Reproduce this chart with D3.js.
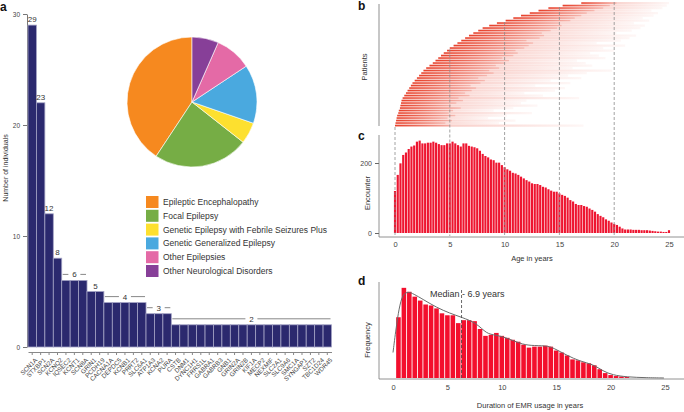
<!DOCTYPE html>
<html>
<head>
<meta charset="utf-8">
<script src="https://cdn.jsdelivr.net/npm/d3@7"></script>
<style>
body { margin: 0; background: #fff; }
svg { font-family: "Liberation Sans", Arial, sans-serif; }
</style>
</head>
<body>
<div id="chart"></div>
<script>
// panel a - genes and number of individuals
var genes = ["SCN1A", "STXBP1", "SCN2A", "KCNQ2", "IQSEC2", "KCNT1", "SCN8A", "GRIN1", "PCDH19",
    "CACNA1A", "DEPDC5", "KCNB1", "PRRT2", "SLC6A1", "ATP1A3", "KCNA2", "PURA",
    "CSTB", "DNM1", "DYNC1H1", "FRRS1L", "GABRA1", "GABRB3", "GNB1", "GRIN2A", "GRIN2B", "KIF1A",
    "MECP2", "NEXMIF", "SLC2A1", "SLC9A6", "SMC1A", "SYNGAP1", "SZT2", "TBC1D24", "WDR45"];
var geneCounts = [29, 22, 12, 8, 6, 6, 6, 5, 5, 4, 4, 4, 4, 4, 3, 3, 3,
    2, 2, 2, 2, 2, 2, 2, 2, 2, 2, 2, 2, 2, 2, 2, 2, 2, 2, 2];
// labels over groups of bars: text, first bar, last bar
var countLabels = [["29", 0, 0], ["23", 1, 1], ["12", 2, 2], ["8", 3, 3], ["6", 4, 6],
    ["5", 7, 8], ["4", 9, 13], ["3", 14, 16], ["2", 17, 35]];

// pie - phenotype shares (%)
var phenotypes = ["Epileptic Encephalopathy", "Focal Epilepsy", "Genetic Epilepsy with Febrile Seizures Plus",
    "Genetic Generalized Epilepsy", "Other Epilepsies", "Other Neurological Disorders"];
var phenotypeShares = [40.7, 23.7, 5.3, 14.6, 9.1, 6.6];
var phenotypeColors = ["#f6891f", "#76ad45", "#fde02f", "#4aa9df", "#e46aa6", "#873f98"];

// panel b - patient rows (bottom to top): first age, end of dense part, last age
var patientStart = [0, 0.05, 0.1, 0.15, 0.2, 0.3, 0.35, 0.45, 0.5, 0.55,
    0.6, 0.7, 0.85, 1.0, 1.15, 1.3, 1.45, 1.6, 1.8, 2.0,
    2.2, 2.4, 2.6, 2.85, 3.15, 3.45, 3.7, 3.95, 4.2, 4.45,
    4.75, 5.0, 5.35, 5.7, 6.05, 6.4, 6.75, 7.15, 7.6, 8.0,
    8.6, 9.3, 10.1, 10.8, 11.5, 12.3, 13.1, 14.0, 15.3, 17.0];
var denseEnd = [5.0, 4.6, 5.2, 4.8, 5.5, 4.9, 5.3, 6.0, 5.1, 5.6,
    6.2, 5.8, 6.8, 6.4, 7.0, 7.4, 6.9, 7.8, 8.2, 7.6,
    8.4, 9.0, 8.6, 9.5, 9.2, 10.0, 10.4, 9.8, 10.8, 11.2,
    11.0, 11.8, 12.2, 12.6, 12.0, 13.2, 13.6, 13.4, 14.2, 14.8,
    15.2, 15.0, 16.0, 16.4, 17.0, 17.5, 18.2, 19.0, 19.6, 20.2];
var sparseEnd = [17.2, 9.5, 11.0, 8.5, 10.2, 12.5, 9.0, 10.8, 13.0, 11.5,
    12.0, 16.8, 13.5, 11.8, 14.6, 15.5, 12.8, 16.0, 14.2, 17.0,
    15.8, 17.5, 19.8, 16.2, 18.0, 17.4, 16.6, 19.2, 18.6, 17.8,
    20.0, 19.0, 21.0, 18.4, 20.6, 21.4, 22.0, 20.2, 21.6, 22.4,
    22.8, 21.8, 23.2, 22.6, 23.6, 24.0, 23.4, 24.4, 24.8, 25.0];

// panel c - encounters per quarter year of age (0 .. 25)
var encounterBin = 0.25;
var encounterCounts = [120, 166, 199, 223, 230, 240, 247, 250, 261, 264,
    256, 256, 258, 258, 261, 258, 254, 251, 251, 256,
    256, 261, 256, 251, 247, 256, 256, 249, 247, 245,
    242, 235, 226, 220, 216, 210, 208, 201, 201, 194,
    188, 182, 178, 172, 170, 166, 161, 156, 151, 147,
    142, 140, 140, 137, 132, 130, 125, 121, 118, 118,
    113, 109, 106, 101, 94, 90, 83, 80, 80, 77,
    75, 70, 66, 61, 54, 49, 45, 39, 35, 30,
    26, 23, 18, 13, 10, 10, 10, 9, 9, 9,
    8, 8, 8, 7, 6, 5, 4, 4, 3, 3, 8];
var ageTicks = [0, 5, 10, 15, 20, 25];
var guideAges = [0, 5, 10, 15, 20];

// panel d - duration of EMR usage, half-year bins centred at 0.5 .. 21.5
var durationBin = 0.5;
var durationCounts = [62, 92, 88, 83, 79, 75, 74, 71, 66, 64,
    64, 56, 59, 59, 58, 50, 43, 44, 46, 43,
    41, 39, 37, 34, 31, 32, 32, 33, 32, 28,
    26, 23, 19, 18, 16, 15, 13, 9, 5, 3,
    2, 1.5, 1];
var densityAge = [0, 0.34, 0.64, 0.95, 1.41, 1.87, 2.79, 4.0, 5.24, 6.3, 7.7, 8.6, 9.4, 10.45,
    11.7, 12.6, 14.1, 14.7, 16.0, 17.2, 18.4, 19.3, 20.2, 21.5, 23.3, 24.9];
var densityValue = [26, 56, 76, 86, 88, 86, 80, 72, 66, 62, 56, 45, 44, 41,
    35, 33, 33, 31, 23, 17, 14, 7, 3, 1, 0.3, 0];
var medianAge = 6.3;

var svg = d3.select("#chart").append("svg")
    .attr("width", 684)
    .attr("height", 412);

var textColor = "#333";

function panelLetter(txt, x, y) {
    svg.append("text").attr("x", x).attr("y", y)
        .attr("font-size", 12).attr("font-weight", "bold").attr("fill", "#111")
        .text(txt);
}

function rotatedTitle(txt, x, y, size) {
    svg.append("text")
        .attr("transform", "translate(" + x + "," + y + ") rotate(-90)")
        .attr("text-anchor", "middle")
        .attr("font-size", size).attr("fill", textColor)
        .text(txt);
}

// ================= panel a =================
panelLetter("a", 0, 11);

var xA = d3.scaleBand().domain(genes).range([28, 331.5]).paddingInner(0);
var yA = d3.scaleLinear().domain([0, 30]).range([347, 14]);

var yAxisA = svg.append("g")
    .attr("transform", "translate(27,0)")
    .attr("color", "#777")
    .call(d3.axisLeft(yA).tickValues([0, 10, 20, 30]).tickSize(4).tickSizeOuter(0));
yAxisA.selectAll("text").attr("font-size", 6.5).attr("fill", "#444").attr("font-family", null);

rotatedTitle("Number of individuals", 8, 168, 7);

svg.selectAll(".geneBar")
    .data(geneCounts)
    .enter()
    .append("rect")
    .attr("class", "geneBar")
    .attr("x", function (d, i) { return xA(genes[i]); })
    .attr("y", function (d) { return yA(d); })
    .attr("width", xA.bandwidth())
    .attr("height", function (d) { return yA(0) - yA(d); })
    .attr("fill", "#2b296e")
    .attr("stroke", "#a3a2c4")
    .attr("stroke-width", 0.8);

var xAxisA = svg.append("g")
    .attr("transform", "translate(0,352)")
    .attr("color", "#888")
    .call(d3.axisBottom(xA).tickSize(3).tickSizeOuter(0));
xAxisA.selectAll("text")
    .attr("font-size", 6.3)
    .attr("fill", "#444")
    .attr("font-family", null)
    .attr("y", 0)
    .attr("dy", "0.35em")
    .attr("text-anchor", "end")
    .attr("transform", "translate(4,7) rotate(-45)");

// count labels with side rules
countLabels.forEach(function (g) {
    var x0 = xA(genes[g[1]]), x1 = xA(genes[g[2]]) + xA.bandwidth();
    var top = d3.max(geneCounts.slice(g[1], g[2] + 1));
    var cy = yA(top) - 6, cx = (x0 + x1) / 2;
    svg.append("text")
        .attr("x", cx).attr("y", cy + 3)
        .attr("text-anchor", "middle")
        .attr("font-size", 8).attr("fill", textColor)
        .text(g[0]);
    if (g[2] - g[1] >= 2) {
        var gap = 6;
        svg.append("line").attr("x1", x0 + 1).attr("x2", cx - gap)
            .attr("y1", cy).attr("y2", cy).attr("stroke", "#555").attr("stroke-width", 0.7);
        svg.append("line").attr("x1", cx + gap).attr("x2", x1 - 1)
            .attr("y1", cy).attr("y2", cy).attr("stroke", "#555").attr("stroke-width", 0.7);
    }
});

// pie
var pie = d3.pie().sort(null).startAngle(0).endAngle(-2 * Math.PI);
var arc = d3.arc().innerRadius(0).outerRadius(65);
svg.append("g")
    .attr("transform", "translate(192,102)")
    .selectAll("path")
    .data(pie(phenotypeShares))
    .enter()
    .append("path")
    .attr("d", arc)
    .attr("fill", function (d, i) { return phenotypeColors[i]; })
    .attr("stroke", "#fff")
    .attr("stroke-width", 0.6);

// legend
var legend = svg.selectAll(".legendRow")
    .data(phenotypes)
    .enter()
    .append("g")
    .attr("class", "legendRow")
    .attr("transform", function (d, i) { return "translate(146," + (196 + i * 13.8) + ")"; });
legend.append("rect")
    .attr("width", 12.5).attr("height", 12)
    .attr("fill", function (d, i) { return phenotypeColors[i]; });
legend.append("text")
    .attr("x", 17).attr("y", 9)
    .attr("font-size", 8.5).attr("fill", textColor)
    .text(function (d) { return d; });

// ================= panels b & c share the age scale =================
var ageX = d3.scaleLinear().domain([0, 25]).range([395, 669]);

// panel b
panelLetter("b", 358, 10);
var rowY = d3.scaleLinear().domain([0, patientStart.length]).range([127, 2]);
var rowStep = rowY(0) - rowY(1);

var defs = svg.append("defs");
function fade(id, o0, o1) {
    var g = defs.append("linearGradient").attr("id", id)
        .attr("x1", "0%").attr("x2", "100%").attr("y1", "0%").attr("y2", "0%");
    g.append("stop").attr("offset", "0%").attr("stop-color", "#e5331c").attr("stop-opacity", o0);
    g.append("stop").attr("offset", "100%").attr("stop-color", "#e5331c").attr("stop-opacity", o1);
}
fade("fadeDense", 0.9, 0.2);
fade("fadeSparse", 0.32, 0.04);

svg.selectAll(".rowSparse")
    .data(patientStart)
    .enter()
    .append("rect")
    .attr("class", "rowSparse")
    .attr("x", function (d) { return ageX(d); })
    .attr("y", function (d, i) { return rowY(i + 1); })
    .attr("width", function (d, i) { return ageX(sparseEnd[i]) - ageX(d); })
    .attr("height", rowStep * 0.9)
    .attr("fill", "url(#fadeSparse)");

svg.selectAll(".rowDense")
    .data(patientStart)
    .enter()
    .append("rect")
    .attr("class", "rowDense")
    .attr("x", function (d) { return ageX(d); })
    .attr("y", function (d, i) { return rowY(i + 1) + rowStep * 0.15; })
    .attr("width", function (d, i) { return ageX(denseEnd[i]) - ageX(d); })
    .attr("height", rowStep * 0.55)
    .attr("fill", "url(#fadeDense)");

svg.append("line")
    .attr("x1", 379).attr("x2", 379).attr("y1", 4).attr("y2", 126)
    .attr("stroke", "#b5b5b5").attr("stroke-width", 1.5);
rotatedTitle("Patients", 367, 67, 7.5);

// panel c
panelLetter("c", 358, 140);
var yC = d3.scaleLinear().domain([0, 280]).range([233, 135]);
var cBarW = (ageX(encounterBin) - ageX(0)) * 0.78;

svg.selectAll(".encBar")
    .data(encounterCounts)
    .enter()
    .append("rect")
    .attr("class", "encBar")
    .attr("x", function (d, i) { return ageX(i * encounterBin) - cBarW / 2; })
    .attr("y", function (d) { return yC(d); })
    .attr("width", cBarW)
    .attr("height", function (d) { return yC(0) - yC(d); })
    .attr("fill", "#ee1530");

var yAxisC = svg.append("g")
    .attr("transform", "translate(379,0)")
    .attr("color", "#666")
    .call(d3.axisLeft(yC).tickValues([0, 200]).tickSize(4).tickSizeOuter(0));
yAxisC.select(".domain").remove();
yAxisC.selectAll("text").attr("font-size", 7).attr("fill", "#444").attr("font-family", null);
svg.append("line").attr("x1", 379).attr("x2", 379).attr("y1", 135).attr("y2", 237)
    .attr("stroke", "#777").attr("stroke-width", 0.8);

var xAxisC = svg.append("g")
    .attr("transform", "translate(0,237)")
    .attr("color", "#666")
    .call(d3.axisBottom(ageX).tickValues(ageTicks).tickSize(0).tickPadding(5));
xAxisC.select(".domain").remove();
xAxisC.selectAll("text").attr("font-size", 7.5).attr("fill", "#444").attr("font-family", null);
svg.append("line").attr("x1", 379).attr("x2", 684).attr("y1", 237).attr("y2", 237)
    .attr("stroke", "#777").attr("stroke-width", 0.8);

svg.append("text").attr("x", 532).attr("y", 261)
    .attr("text-anchor", "middle").attr("font-size", 7.5).attr("fill", textColor)
    .text("Age in years");
rotatedTitle("Encounter", 370, 193, 7.5);

// dashed guides through b and c, starting at the edge of the patient cloud
svg.selectAll(".guide")
    .data(guideAges)
    .enter()
    .append("line")
    .attr("class", "guide")
    .attr("x1", function (d) { return ageX(d); })
    .attr("x2", function (d) { return ageX(d); })
    .attr("y1", function (d) {
        var i = patientStart.findIndex(function (s) { return s >= d; });
        return i < 0 ? 2 : rowY(i);
    })
    .attr("y2", 236)
    .attr("stroke", "#8a8a8a")
    .attr("stroke-width", 0.8)
    .attr("stroke-dasharray", "3,2");

// ================= panel d =================
panelLetter("d", 358, 285);
var durX = d3.scaleLinear().domain([0, 25]).range([393, 665]);
var yD = d3.scaleLinear().domain([0, 100]).range([378, 280]);
var dBarW = (durX(durationBin) - durX(0)) * 0.84;

svg.selectAll(".durBar")
    .data(durationCounts)
    .enter()
    .append("rect")
    .attr("class", "durBar")
    .attr("x", function (d, i) { return durX((i + 1) * durationBin) - dBarW / 2; })
    .attr("y", function (d) { return yD(d); })
    .attr("width", dBarW)
    .attr("height", function (d) { return yD(0) - yD(d); })
    .attr("fill", "#f30f2d");

var densityLine = d3.line()
    .x(function (d, i) { return durX(densityAge[i]); })
    .y(function (d) { return yD(d); })
    .curve(d3.curveBasis);
svg.append("path")
    .attr("d", densityLine(densityValue))
    .attr("fill", "none")
    .attr("stroke", "#6b6b6b")
    .attr("stroke-width", 1);

svg.append("line")
    .attr("x1", durX(medianAge)).attr("x2", durX(medianAge))
    .attr("y1", 290).attr("y2", 378)
    .attr("stroke", "#444").attr("stroke-width", 0.8).attr("stroke-dasharray", "3,2");
svg.append("text").attr("x", 430).attr("y", 297)
    .attr("font-size", 9).attr("fill", textColor)
    .text("Median - 6.9 years");

svg.append("line").attr("x1", 379).attr("x2", 379).attr("y1", 282).attr("y2", 379)
    .attr("stroke", "#777").attr("stroke-width", 0.8);
svg.append("line").attr("x1", 379).attr("x2", 684).attr("y1", 379).attr("y2", 379)
    .attr("stroke", "#777").attr("stroke-width", 0.8);
var xAxisD = svg.append("g")
    .attr("transform", "translate(0,379)")
    .attr("color", "#666")
    .call(d3.axisBottom(durX).tickValues(ageTicks).tickSize(0).tickPadding(6));
xAxisD.select(".domain").remove();
xAxisD.selectAll("text").attr("font-size", 7.5).attr("fill", "#444").attr("font-family", null);

svg.append("text").attr("x", 530).attr("y", 408)
    .attr("text-anchor", "middle").attr("font-size", 7.5).attr("fill", textColor)
    .text("Duration of EMR usage in years");
rotatedTitle("Frequency", 370, 340, 7.5);
</script>
</body>
</html>
